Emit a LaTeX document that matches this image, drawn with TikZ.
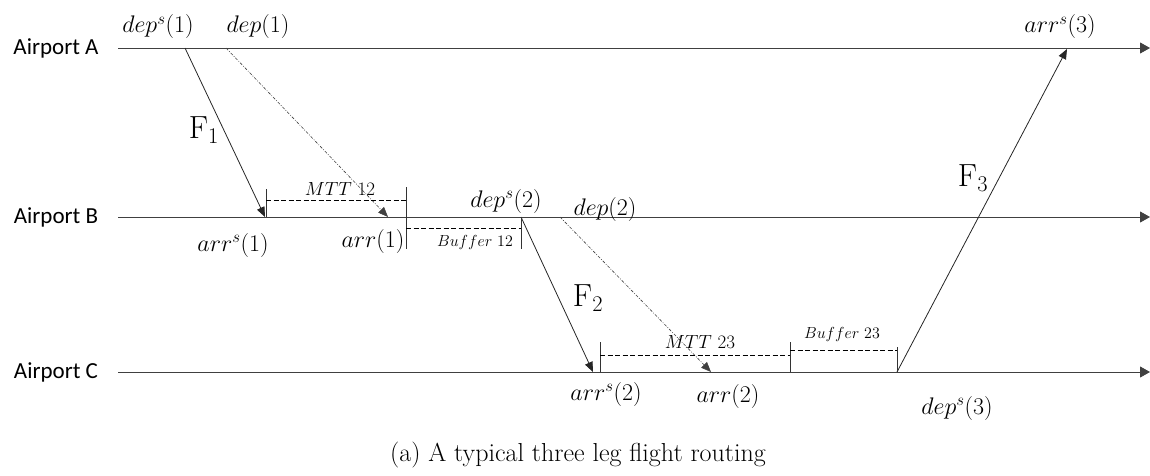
\RequirePackage{fix-cm}
\documentclass[tikz,border=0pt]{standalone}
\usepackage{fontspec}
\newfontfamily\airportfont{Carlito}
\usetikzlibrary{arrows.meta}

\tikzset{
  axis/.style={draw=black!75, line width=0.9pt, -{Triangle[length=10pt,width=11pt]}},
  flight/.style={draw=black!85, line width=0.8pt, -{Triangle[length=10pt,width=8pt]}},
  delay/.style={draw=black!75, line width=0.6pt, dash pattern=on 3pt off 1.5pt on 0.8pt off 1.5pt, -{Triangle[length=10pt,width=8pt]}},
  span/.style={draw=black, line width=1pt, dash pattern=on 5pt off 2.5pt},
  tick/.style={draw=black!80, line width=0.6pt},
  airport/.style={font=\airportfont\fontsize{23}{26}\selectfont, inner sep=0pt},
  event/.style={font=\fontsize{24}{28}\selectfont, inner sep=0pt},
  legname/.style={font=\fontsize{32}{36}\selectfont, inner sep=0pt},
  gap/.style={font=\fontsize{19}{22}\selectfont, inner sep=0pt},
  gapsmall/.style={font=\fontsize{16}{19}\selectfont, inner sep=0pt}
}

\begin{document}
\begin{tikzpicture}[x=1pt,y=-1pt]
    \useasboundingbox (0,0) rectangle (1150,476);

    % airports
    \node[airport] (ap a) at (56,48) {Airport A};
    \node[airport] (ap b) at (56,217) {Airport B};
    \node[airport] (ap c) at (56,372) {Airport C};
    \coordinate (a0) at (118,48);  \coordinate (a1) at (1150,48);
    \coordinate (b0) at (118,217); \coordinate (b1) at (1150,217);
    \coordinate (c0) at (118,372); \coordinate (c1) at (1150,372);
    \draw[axis] (a0) -- (a1);
    \draw[axis] (b0) -- (b1);
    \draw[axis] (c0) -- (c1);

    % event times
    \coordinate (dep1s) at (185,48);  \coordinate (dep1) at (226,48);
    \coordinate (arr1s) at (265,217); \coordinate (arr1) at (388,217);
    \coordinate (dep2s) at (521,217); \coordinate (dep2) at (560,217);
    \coordinate (arr2s) at (593,372); \coordinate (arr2) at (711,372);
    \coordinate (dep3s) at (897,372); \coordinate (arr3s) at (1067,49);

    % flights
    \draw[flight] (dep1s) -- (arr1s);
    \draw[flight] (dep2s) -- (arr2s);
    \draw[flight] (dep3s) -- (arr3s);
    \draw[delay] (dep1) -- (arr1);
    \draw[delay] (dep2) -- (arr2);

    \node[legname] (f1) at (204,130) {$\mathrm{F}_1$};
    \node[legname] (f2) at (588,298) {$\mathrm{F}_2$};
    \node[legname] (f3) at (973,178) {$\mathrm{F}_3$};

    % MTT 12 and Buffer 12
    \draw[tick] (266,189) -- (266,217);
    \draw[tick] (406,187) -- (406,249);
    \draw[tick] (521,217) -- (521,249);
    \draw[span] (266,200) -- (406,200);
    \draw[span] (406,228) -- (521,228);
    \node[gap] (mtt12) at (340,189) {$MTT\ 12$};
    \node[gapsmall] (buf12) at (475,242) {$Buffer\ 12$};

    % MTT 23 and Buffer 23
    \draw[tick] (600,342) -- (600,372);
    \draw[tick] (790,342) -- (790,372);
    \draw[tick] (897,347) -- (897,372);
    \draw[span] (600,355) -- (790,355);
    \draw[span] (790,350) -- (897,350);
    \node[gap] (mtt23) at (700,342) {$MTT\ 23$};
    \node[gapsmall] (buf23) at (842,334) {$Buffer\ 23$};

    % labels
    \node[event] (l dep1s) at (158,27) {$dep^s(1)$};
    \node[event] (l dep1) at (258,27) {$dep(1)$};
    \node[event] (l arr3s) at (1060,27) {$arr^s(3)$};
    \node[event] (l arr1s) at (233,245) {$arr^s(1)$};
    \node[event] (l arr1) at (373,241) {$arr(1)$};
    \node[event] (l dep2s) at (506,201) {$dep^s(2)$};
    \node[event] (l dep2) at (605,209) {$dep(2)$};
    \node[event] (l arr2s) at (606,394) {$arr^s(2)$};
    \node[event] (l arr2) at (728,396) {$arr(2)$};
    \node[event] (l dep3s) at (957,408) {$dep^s(3)$};

    \node[font=\fontsize{26}{30}\selectfont, inner sep=0pt] (caption) at (578,455) {(a) A typical three leg flight routing};
\end{tikzpicture}
\end{document}
